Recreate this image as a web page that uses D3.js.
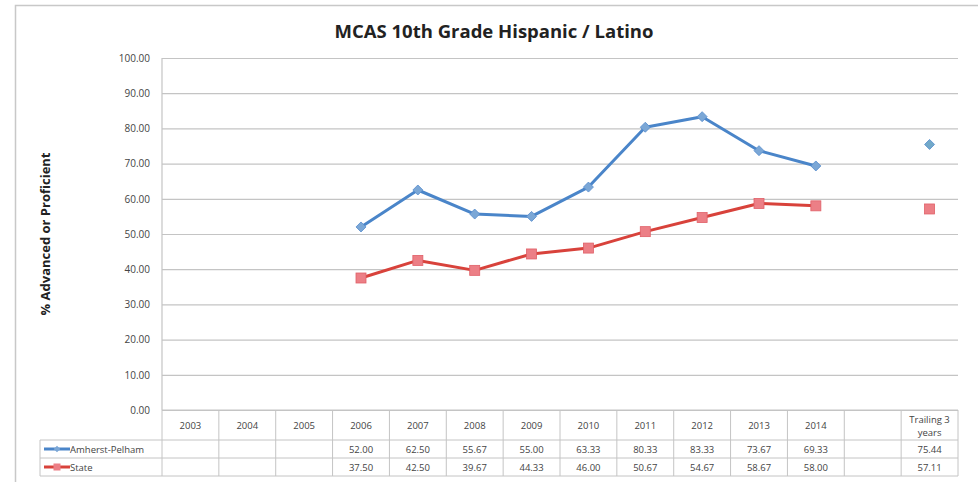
<!DOCTYPE html>
<html><head><meta charset="utf-8">
<script src="https://cdn.jsdelivr.net/npm/d3@7"></script>
<style>
body{margin:0;background:#fff;}
svg{display:block;font-family:"Open Sans","Liberation Sans",sans-serif;}
</style></head>
<body><svg id="c" width="978" height="482"></svg>
<script>
const categories = ["2003","2004","2005","2006","2007","2008","2009","2010","2011","2012","2013","2014","","Trailing 3 years"];
const amherstValues = [null,null,null,52.00,62.50,55.67,55.00,63.33,80.33,83.33,73.67,69.33,null,75.44];
const stateValues   = [null,null,null,37.50,42.50,39.67,44.33,46.00,50.67,54.67,58.67,58.00,null,57.11];
const seriesNames = ["Amherst-Pelham","State"];
const yTicks = [0,10,20,30,40,50,60,70,80,90,100];
const trailingIndex = 13;

const svg = d3.select("#c");
const L=162, R=958, T=58, B=410;
const x = d3.scaleBand().domain(d3.range(categories.length)).range([L,R]);
const y = d3.scaleLinear().domain([0,100]).range([B,T]);

// outer frame
svg.append("rect").attr("x",15.5).attr("y",5.5).attr("width",980).attr("height",490)
  .attr("fill","none").attr("stroke","#c8c8c8").attr("stroke-width",1.5);

// title
svg.append("text").attr("x",494).attr("y",38).attr("text-anchor","middle")
  .attr("font-size",18.5).attr("font-weight","bold").attr("fill","#222")
  .text("MCAS 10th Grade Hispanic / Latino");

// y title
svg.append("text").attr("transform","translate(50,234) rotate(-90)").attr("text-anchor","middle")
  .attr("font-size",13).attr("font-weight","bold").attr("fill","#222")
  .text("% Advanced or Proficient");

// gridlines
const yAxis = d3.axisLeft(y).tickValues(yTicks).tickFormat(d3.format(".2f")).tickSize(-(R-L)).tickPadding(12);
const ga = svg.append("g").attr("transform",`translate(${L},0)`).call(yAxis);
ga.select(".domain").remove();
ga.selectAll(".tick line").attr("stroke","#c4c4c4").attr("stroke-width",1.2);
ga.selectAll(".tick text").attr("font-size",10).attr("fill","#444")
  .attr("font-family","'Open Sans','Liberation Sans',sans-serif");
svg.append("line").attr("x1",L).attr("x2",L).attr("y1",T).attr("y2",B).attr("stroke","#c4c4c4").attr("stroke-width",1.2);

// table
const tg = svg.append("g").attr("stroke","#c4c4c4").attr("stroke-width",1).attr("fill","none");
for(let i=0;i<=categories.length;i++){
  const xx = i<categories.length? x(i) : R;
  tg.append("line").attr("x1",xx).attr("x2",xx).attr("y1",410).attr("y2",476);
}
tg.append("line").attr("x1",40).attr("x2",40).attr("y1",440).attr("y2",476);
tg.append("line").attr("x1",L).attr("x2",R).attr("y1",410).attr("y2",410);
[440,458,476].forEach(yy=>tg.append("line").attr("x1",40).attr("x2",R).attr("y1",yy).attr("y2",yy));

const cx = i => x(i)+x.bandwidth()/2;
categories.forEach((c,i)=>{
  if(c==="Trailing 3 years"){
    const t = svg.append("text").attr("x",cx(i)).attr("text-anchor","middle").attr("font-size",9.5).attr("fill","#444");
    t.append("tspan").attr("x",cx(i)).attr("y",423).text("Trailing 3");
    t.append("tspan").attr("x",cx(i)).attr("y",436).text("years");
  } else {
    svg.append("text").attr("x",cx(i)).attr("y",429).attr("text-anchor","middle").attr("font-size",9.5).attr("fill","#444").text(c);
  }
});
const fmt = d3.format(".2f");
[[amherstValues,453],[stateValues,471]].forEach(([vals,yy])=>{
  vals.forEach((v,i)=>{ if(v!=null) svg.append("text").attr("x",cx(i)).attr("y",yy).attr("text-anchor","middle")
    .attr("font-size",9.5).attr("fill","#444").text(fmt(v)); });
});

const colors = [{line:"#4a85c9",mark:"#7ba7d6"},{line:"#d8423b",mark:"#ec7f86"}];
[[449,0],[467,1]].forEach(([yy,k])=>{
  svg.append("line").attr("x1",44).attr("x2",70).attr("y1",yy).attr("y2",yy).attr("stroke",colors[k].line).attr("stroke-width",3);
  if(k===0) svg.append("path").attr("d",d3.symbol(d3.symbolSquare,22)()).attr("transform",`translate(57,${yy}) rotate(45)`).attr("fill",colors[k].mark);
  else svg.append("rect").attr("x",53.5).attr("y",yy-3.5).attr("width",7).attr("height",7).attr("fill",colors[k].mark);
  svg.append("text").attr("x",70).attr("y",yy+3.5).attr("font-size",9.5).attr("fill","#444").text(seriesNames[k]);
});

// lines
const line = d3.line().defined(d=>d.v!=null && d.i!==trailingIndex).x(d=>cx(d.i)).y(d=>y(d.v));
[amherstValues,stateValues].forEach((vals,k)=>{
  const data = vals.map((v,i)=>({v,i}));
  svg.append("path").datum(data).attr("d",line).attr("fill","none").attr("stroke",colors[k].line).attr("stroke-width",3).attr("stroke-linejoin","round");
  data.filter(d=>d.v!=null).forEach(d=>{
    if(k===0){
      svg.append("path").attr("d",d3.symbol(d3.symbolSquare,50)()).attr("transform",`translate(${cx(d.i)},${y(d.v)}) rotate(45)`)
        .attr("fill",d.i===trailingIndex?"#72a9c9":colors[0].mark).attr("stroke","#5a8fcf").attr("stroke-width",0.8);
    } else {
      svg.append("rect").attr("x",cx(d.i)-5).attr("y",y(d.v)-5).attr("width",10).attr("height",10)
        .attr("fill",colors[1].mark).attr("stroke","#e06068").attr("stroke-width",0.8);
    }
  });
});
</script></body></html>
